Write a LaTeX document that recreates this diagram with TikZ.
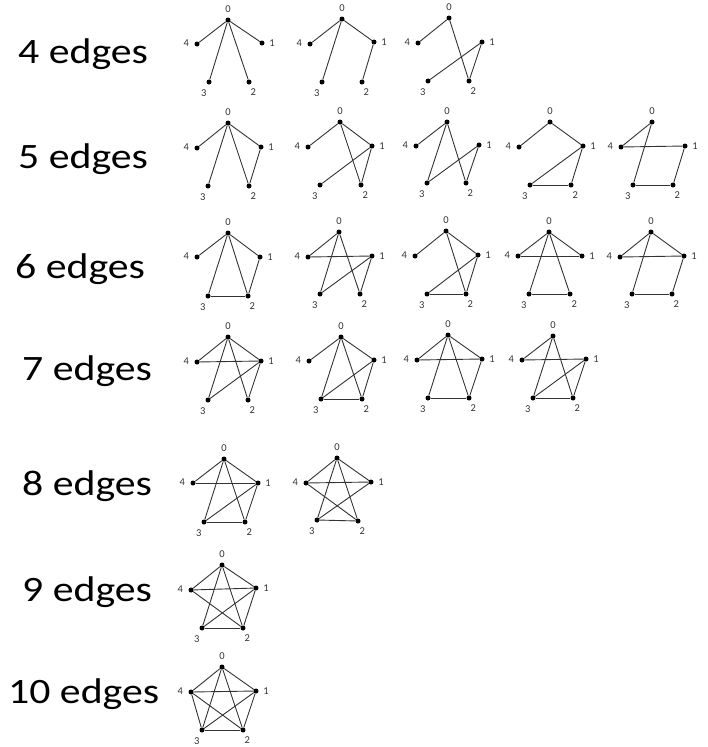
\documentclass[tikz,border=0pt]{standalone}
\usepackage{fontspec}
\setmainfont{Carlito}
\tikzset{
  vtx/.style={circle,fill=black,inner sep=0pt,minimum size=5pt},
  lbl/.style={inner sep=0pt,font=\fontsize{10.5}{12}\selectfont,text=black!80},
  edge/.style={line width=0.9pt,draw=black!80},
  rowlbl/.style={anchor=base west,inner sep=0pt,font=\fontsize{35.7}{40}\selectfont}
}
\newcommand\mkgraph[7]{%
  \node[vtx] (#1-0) at (#2) {};
  \node[vtx] (#1-1) at (#3) {};
  \node[vtx] (#1-2) at (#4) {};
  \node[vtx] (#1-3) at (#5) {};
  \node[vtx] (#1-4) at (#6) {};
  \path (#1-0.center) ++(0,-10.7) node[lbl] (#1-l0) {0};
  \path (#1-1.center) ++(10,0) node[lbl] (#1-l1) {1};
  \path (#1-2.center) ++(4.3,9.6) node[lbl] (#1-l2) {2};
  \path (#1-3.center) ++(-5.3,11) node[lbl] (#1-l3) {3};
  \path (#1-4.center) ++(-10.7,-0.5) node[lbl] (#1-l4) {4};
  \foreach \u/\v in {#7} \draw[edge] (#1-\u) -- (#1-\v);
}
\begin{document}
\begin{tikzpicture}[x=1pt,y=-1pt]
\useasboundingbox (0,0) rectangle (708,747);
% row labels
\node[rowlbl] (t4) at (18,63) {\scalebox{1.17}[1]{4 edges}};
\node[rowlbl] (t5) at (18,168) {\scalebox{1.17}[1]{5 edges}};
\node[rowlbl] (t6) at (15,278) {\scalebox{1.17}[1]{6 edges}};
\node[rowlbl] (t7) at (22,380) {\scalebox{1.17}[1]{7 edges}};
\node[rowlbl] (t8) at (22,495) {\scalebox{1.17}[1]{8 edges}};
\node[rowlbl] (t9) at (22,601) {\scalebox{1.17}[1]{9 edges}};
\node[rowlbl] (t10) at (8,703) {\scalebox{1.17}[1]{10 edges}};
% 4 edges
\mkgraph{a1}{228,20}{262,43}{249,82}{209,82}{197,44}{0/4,0/3,0/2,0/1}
\mkgraph{a2}{342,19}{374,42}{362,82}{322,82}{310,44}{0/4,0/3,0/1,1/2}
\mkgraph{a3}{449,18}{482,42}{469,81}{428,81}{418,43}{0/4,0/2,1/2,1/3}
% 5 edges
\mkgraph{b1}{228,123}{261,147}{249,186}{208,186}{197,148}{0/4,0/3,0/2,0/1,1/2}
\mkgraph{b2}{340,122}{372,146}{361,185}{320,185}{308,147}{0/4,0/1,0/2,1/2,1/3}
\mkgraph{b3}{447,122}{479,145}{466,183}{427,183}{416,146}{0/4,0/3,0/2,1/2,1/3}
\mkgraph{b4}{550,122}{583,146}{571,185}{530,185}{519,147}{0/4,0/1,1/3,1/2,3/2}
\mkgraph{b5}{652,122}{685,146}{673,185}{633,185}{621,147}{0/4,0/3,4/1,1/2,3/2}
% 6 edges
\mkgraph{c1}{228,233}{260,257}{248,296}{208,296}{197,257}{0/4,0/3,0/2,0/1,1/2,3/2}
\mkgraph{c2}{339,232}{372,256}{360,294}{320,294}{308,257}{0/4,0/3,0/2,4/1,1/2,1/3}
\mkgraph{c3}{446,231}{478,255}{466,294}{427,294}{415,256}{0/4,0/1,0/2,1/2,1/3,3/2}
\mkgraph{c4}{549,232}{582,256}{570,294}{529,294}{518,256}{0/4,0/1,4/1,0/3,0/2,3/2}
\mkgraph{c5}{651,232}{684,256}{672,294}{632,294}{620,257}{0/4,0/1,4/1,0/3,1/2,3/2}
% 7 edges
\mkgraph{d1}{228,337}{261,361}{248,400}{208,400}{197,362}{0/4,0/3,0/2,0/1,4/1,1/3,1/2}
\mkgraph{d2}{341,337}{374,360}{362,399}{321,399}{309,361}{0/4,0/1,0/3,0/2,1/3,1/2,3/2}
\mkgraph{d3}{448,335}{482,359}{469,398}{428,398}{417,360}{0/4,0/1,4/1,0/3,0/2,1/2,3/2}
\mkgraph{d4}{553,336}{586,359}{573,398}{533,398}{522,360}{0/4,4/1,0/3,0/2,1/3,1/2,3/2}
% 8 edges
\mkgraph{e1}{224,459}{258,483}{245,522}{204,522}{193,483}{0/4,0/1,4/1,0/3,0/2,1/3,1/2,3/2}
\mkgraph{e2}{337,458}{371,482}{358,521}{317,520}{306,483}{0/4,0/1,4/1,0/3,0/2,4/2,1/3,3/2}
% 9 edges
\mkgraph{f1}{222,565}{256,588}{243,628}{202,628}{191,590}{0/4,0/1,4/1,0/3,0/2,4/2,1/3,1/2,3/2}
% 10 edges
\mkgraph{g1}{222,667}{256,691}{243,730}{202,730}{191,692}{0/4,0/1,4/1,0/3,0/2,4/2,4/3,1/3,1/2,3/2}
\end{tikzpicture}
\end{document}
